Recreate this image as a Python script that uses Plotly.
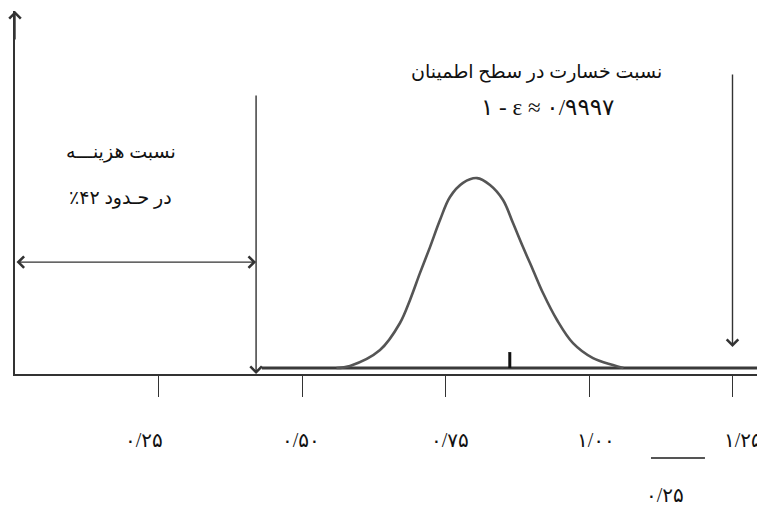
import plotly.graph_objects as go

# ---- data (loss-ratio axis, density in arbitrary units) ----
tick_vals = [0.25, 0.50, 0.75, 1.00, 1.25]
tick_text = ["۰/۲۵", "۰/۵۰", "۰/۷۵", "۱/۰۰", "۱/۲۵"]

curve_x = [0.560, 0.5836, 0.6359, 0.6707, 0.6882, 0.7056, 0.7230, 0.7404, 0.7578,
           0.7805, 0.8049, 0.8275, 0.8502, 0.8676, 0.8850, 0.9024, 0.9199, 0.9443,
           0.9721, 1.0070, 1.0418, 1.060]
curve_y = [0.20, 0.27, 0.80, 1.70, 2.47, 3.37, 4.23, 5.13, 5.90,
           6.37, 6.53, 6.30, 5.80, 5.03, 4.23, 3.47, 2.70, 1.80,
           1.03, 0.53, 0.30, 0.20]

baseline_x = [0.430, 1.2927]
baseline_y = [0.20, 0.20]

mark_x = [0.862, 0.862]
mark_y = [0.20, 0.73]

cost_ratio = 0.42          # نسبت هزینه
loss_level = 1.25          # نسبت خسارت در سطح اطمینان
cost_line_top = 9.33
loss_arrow_top = 10.03
loss_arrow_tip = 0.90
double_arrow_y = 3.73

X_RANGE = [0, 1.29268]
Y_RANGE = [0, 12.1]

FONT = "Liberation Serif, DejaVu Serif, DejaVu Sans, serif"
LINE = "#333333"

fig = go.Figure()
fig.add_trace(go.Scatter(x=baseline_x, y=baseline_y, mode="lines",
                         line=dict(color="#3a3a3a", width=3.2), hoverinfo="skip"))
fig.add_trace(go.Scatter(x=curve_x, y=curve_y, mode="lines", line_shape="spline",
                         line=dict(color="#555555", width=2.6), hoverinfo="skip"))
fig.add_trace(go.Scatter(x=mark_x, y=mark_y, mode="lines",
                         line=dict(color="#111111", width=3), hoverinfo="skip"))

ann = []
arrow_common = dict(text="", showarrow=True, arrowhead=4, arrowsize=1.6,
                    arrowwidth=1.4, arrowcolor=LINE, xref="x", yref="y",
                    axref="x", ayref="y")
# y axis arrow head
ann.append(dict(x=0, y=Y_RANGE[1], ax=0, ay=Y_RANGE[1] - 1.0, **arrow_common))
# cost ratio vertical line
ann.append(dict(x=cost_ratio, y=0, ax=cost_ratio, ay=cost_line_top, **arrow_common))
# double arrow
ann.append(dict(x=cost_ratio, y=double_arrow_y, ax=0, ay=double_arrow_y,
                arrowside="end+start", **arrow_common))
# loss level arrow
ann.append(dict(x=loss_level, y=loss_arrow_tip, ax=loss_level, ay=loss_arrow_top,
                **arrow_common))

txt = dict(showarrow=False, yanchor="middle",
           font=dict(family=FONT, size=19, color="#111111"))
num = dict(showarrow=False, yanchor="middle",
           font=dict(family=FONT, size=20, color="#111111"))
ann.append(dict(x=0.909, y=10.07, xref="x", yref="y",
                text="\u202bنسبت خسارت در سطح اطمینان\u202c", **txt))
ann.append(dict(x=0.927, y=8.87, xref="x", yref="y",
                text="\u202a۱ - ε ≈ ۰/۹۹۹۷\u202c", showarrow=False, yanchor="middle",
                font=dict(family=FONT, size=23, color="#111111")))
ann.append(dict(x=0.185, y=7.40, xref="x", yref="y",
                text="\u202bنسبت هزینـــه\u202c", **txt))
ann.append(dict(x=0.183, y=5.87, xref="x", yref="y",
                text="\u202bدر حـدود ۴۲٪\u202c", **txt))

shifts = [-14.5, -1, 4.5, 7, 10.5]
for v, t, s in zip(tick_vals, tick_text, shifts):
    ann.append(dict(x=v, y=-0.1818, xref="x", yref="paper",
                    text="\u202a" + t + "\u202c", xshift=s, **num))
ann.append(dict(x=1.132, y=-0.3333, xref="x", yref="paper",
                text="\u202a۰/۲۵\u202c", **num))

shapes = [dict(type="line", xref="x", yref="paper", x0=1.108, x1=1.202,
               y0=-0.2314, y1=-0.2314, line=dict(color="#555555", width=2))]

fig.update_layout(
    width=757, height=506,
    margin=dict(l=15, r=0, t=11, b=132),
    paper_bgcolor="white", plot_bgcolor="white",
    showlegend=False,
    annotations=ann, shapes=shapes,
    xaxis=dict(range=X_RANGE, showgrid=False, zeroline=False, showline=True,
               linecolor=LINE, linewidth=1.6, ticks="outside", ticklen=21,
               tickwidth=1.4, tickcolor=LINE, tickvals=tick_vals,
               showticklabels=False, fixedrange=True),
    yaxis=dict(range=Y_RANGE, showgrid=False, zeroline=False, showline=True,
               linecolor=LINE, linewidth=1.6, ticks="", showticklabels=False,
               fixedrange=True),
)

fig.write_html("out.html", config={"displayModeBar": False},
               post_script="document.body.style.margin='0';document.body.style.overflow='hidden';")
